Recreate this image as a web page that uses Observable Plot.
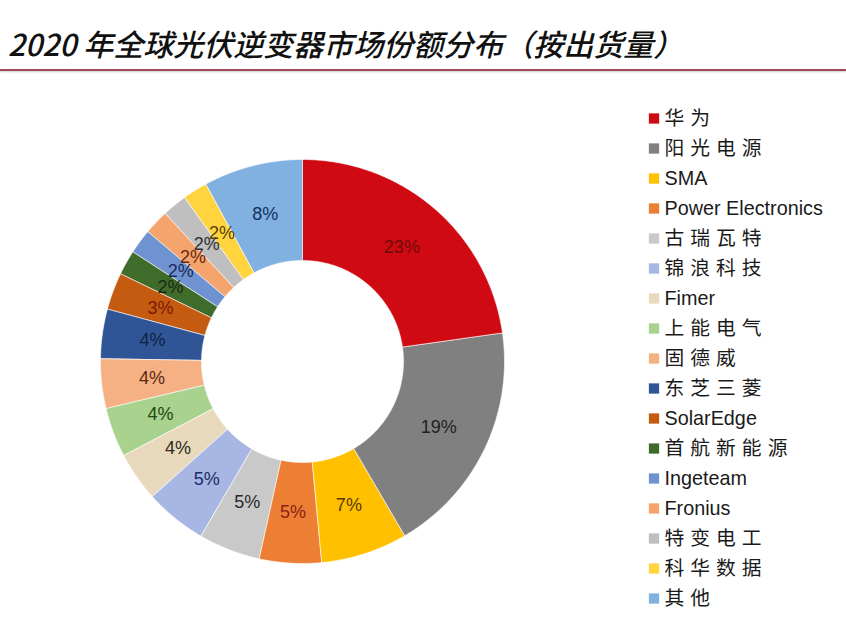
<!DOCTYPE html>
<html><head><meta charset="utf-8">
<script src="https://cdn.jsdelivr.net/npm/d3@7"></script>
<script src="https://cdn.jsdelivr.net/npm/@observablehq/plot@0.6"></script>
<style>
body{margin:0;background:#fff;}
#wrap{position:relative;width:846px;height:617px;overflow:hidden;background:#fff;}
#title{position:absolute;left:8px;top:21px;font-family:"Noto Sans CJK SC",sans-serif;font-style:italic;font-weight:500;font-size:30px;color:#111;white-space:nowrap;}
#rule{position:absolute;left:0;top:69px;width:846px;height:2px;background:#a24c58;box-shadow:0 1px 2px #c8c8c8;}
#pie{position:absolute;left:98px;top:157px;}
#legend{position:absolute;left:640px;top:96px;}
</style></head><body>
<div id="wrap">
  <div id="title">2020 年全球光伏逆变器市场份额分布（按出货量）</div>
  <div id="rule"></div>
  <div id="pie"></div>
  <div id="legend"></div>
</div>
<script>
const companies = ["华为","阳光电源","SMA","Power Electronics","古瑞瓦特","锦浪科技","Fimer","上能电气","固德威","东芝三菱","SolarEdge","首航新能源","Ingeteam","Fronius","特变电工","科华数据","其他"];
const shares = [23,19,7,5,5,5,4,4,4,4,3,2,2,2,2,2,8];
const sliceColors = ["#d00a12","#808080","#ffc000","#ec7f34","#c9c9c9","#a7b6e2","#e8d9bd","#aad28f","#f5b184","#2f5597","#c55a11","#3f6c2b","#6f93d0","#f4a46c","#bfbfbf","#ffd43f","#80b1e1"];
const labelColors = ["#6e0a0a","#1e1e1e","#5a3a00","#8e1d14","#2a2a2a","#1d2d6a","#2e2a20","#1b4a12","#5a2a10","#0f2244","#7a1c00","#1a2a10","#1a2a5a","#6a2a10","#303030","#5a4400","#15305e"];

const innerRatio = 0.5;
const arcs = d3.pie().sort(null).value(d => d)(shares).map((a, i) => ({...a, name: companies[i], i}));

function ring(a0, a1, r0, r1) {
  const n = Math.max(2, Math.ceil((a1 - a0) / 0.01));
  const pts = [];
  for (let k = 0; k <= n; k++) { const t = a0 + (a1 - a0) * k / n; pts.push([r1 * Math.sin(t), -r1 * Math.cos(t)]); }
  for (let k = n; k >= 0; k--) { const t = a0 + (a1 - a0) * k / n; pts.push([r0 * Math.sin(t), -r0 * Math.cos(t)]); }
  pts.push(pts[0]);
  return pts;
}
const features = arcs.map(a => ({type: "Feature", properties: {name: a.name}, geometry: {type: "Polygon", coordinates: [ring(a.startAngle, a.endAngle, innerRatio, 1)]}}));
const labelR = (1 + innerRatio) / 2;
const domainBox = {type: "Polygon", coordinates: [[[-1,-1],[1,-1],[1,1],[-1,1],[-1,-1]]]};

const pie = Plot.plot({
  width: 408, height: 408, margin: 2,
  projection: {type: "identity", domain: domainBox},
  color: {domain: companies, range: sliceColors},
  style: {background: "transparent"},
  marks: [
    Plot.geo(features, {fill: d => d.properties.name, stroke: "#fff", strokeWidth: 0.6}),
    Plot.text(arcs, {
      x: d => labelR * Math.sin((d.startAngle + d.endAngle) / 2),
      y: d => -labelR * Math.cos((d.startAngle + d.endAngle) / 2),
      text: d => d.value + "%",
      fill: d => labelColors[d.i],
      fontSize: 18,
      fontFamily: "Liberation Sans, Arial, sans-serif"
    })
  ]
});
document.getElementById("pie").appendChild(pie);

const legend = Plot.plot({
  width: 206, height: 520, margin: 0,
  x: {domain: [0, 206], range: [0, 206], axis: null},
  y: {type: "point", domain: companies, range: [17, 507], padding: 0, axis: null},
  color: {domain: companies, range: sliceColors},
  style: {background: "transparent"},
  marks: [
    Plot.dot(companies, {x: () => 13.5, y: d => d, symbol: "square", r: 5.8, fill: d => d, stroke: null}),
    Plot.text(companies, {x: () => 24, y: d => d, text: d => d, textAnchor: "start", fill: "#1a1a1a", fontSize: 19.8, fontFamily: "Liberation Sans, Arial, Noto Sans CJK SC, sans-serif"})
  ]
});
d3.select(legend).selectAll("text").filter(function() { return /[\u4e00-\u9fff]/.test(this.textContent); }).attr("letter-spacing", "6px");
document.getElementById("legend").appendChild(legend);
</script>
</body></html>
